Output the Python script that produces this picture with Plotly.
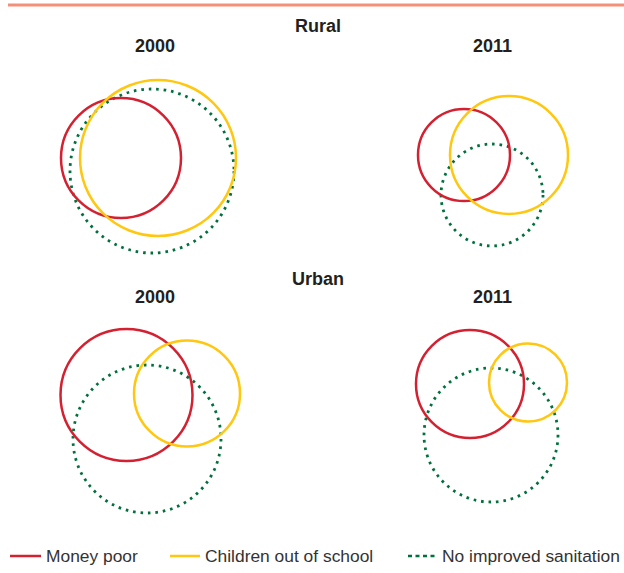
import plotly.graph_objects as go

# ---------------- data ----------------
panels = ["Rural 2000", "Rural 2011", "Urban 2000", "Urban 2011"]
series = ["Money poor", "Children out of school", "No improved sanitation"]

# circle centres (relative to panel centre, y up) and radii, per panel
money_poor_x = [-29, -28, -23.5, -22]
money_poor_y = [7, 10, 25, 36]
money_poor_r = [60, 46, 66, 54]

out_of_school_x = [8, 17, 37, 36]
out_of_school_y = [7, 10, 26.5, 37.5]
out_of_school_r = [78, 59, 53, 39]

no_sanitation_x = [2, 0, -3, -1]
no_sanitation_y = [-6, -30, -19, -15]
no_sanitation_r = [82, 51, 74, 67]

group_titles = ["Rural", "Urban"]
year_titles = ["2000", "2011", "2000", "2011"]

# ---------------- styles ----------------
W, H = 624, 573
RED = "#D42131"
YELLOW = "#FFC70F"
GREEN = "#00703C"
FONT = "Liberation Sans, Arial, sans-serif"

styles = {
    "Money poor": dict(color=RED, width=2.5, dash="solid"),
    "Children out of school": dict(color=YELLOW, width=2.5, dash="solid"),
    "No improved sanitation": dict(color=GREEN, width=2.8, dash="2.6px,4.9px"),
}

# panel layout in pixels: (centre_x, centre_y)
panel_centres = [(150, 165), (492, 165), (150, 420), (492, 420)]
HALF_W, HALF_H = 120, 105

fig = go.Figure()
shapes = []
annotations = []

def px_to_paper_x(p):
    return p / W

def px_to_paper_y(p):
    return 1 - p / H

series_data = {
    "Money poor": (money_poor_x, money_poor_y, money_poor_r),
    "Children out of school": (out_of_school_x, out_of_school_y, out_of_school_r),
    "No improved sanitation": (no_sanitation_x, no_sanitation_y, no_sanitation_r),
}
draw_order = ["No improved sanitation", "Money poor", "Children out of school"]

for i, (pcx, pcy) in enumerate(panel_centres):
    n = "" if i == 0 else str(i + 1)
    xa = "xaxis" + n
    ya = "yaxis" + n
    fig.add_trace(go.Scatter(x=[0], y=[0], mode="markers", marker=dict(opacity=0),
                             xaxis="x" + n, yaxis="y" + n, showlegend=False,
                             hoverinfo="skip"))
    fig.layout[xa] = dict(domain=[px_to_paper_x(pcx - HALF_W), px_to_paper_x(pcx + HALF_W)],
                          range=[-HALF_W, HALF_W], visible=False, fixedrange=True,
                          anchor="y" + n)
    fig.layout[ya] = dict(domain=[px_to_paper_y(pcy + HALF_H), px_to_paper_y(pcy - HALF_H)],
                          range=[-HALF_H, HALF_H], visible=False, fixedrange=True,
                          anchor="x" + n)
    for s in draw_order:
        xs, ys, rs = series_data[s]
        st = styles[s]
        shapes.append(dict(type="circle", xref="x" + n, yref="y" + n,
                           x0=xs[i] - rs[i], x1=xs[i] + rs[i],
                           y0=ys[i] - rs[i], y1=ys[i] + rs[i],
                           line=dict(color=st["color"], width=st["width"], dash=st["dash"]),
                           fillcolor="rgba(0,0,0,0)"))

# top rule
shapes.append(dict(type="line", xref="paper", yref="paper",
                   x0=px_to_paper_x(8), x1=1, y0=px_to_paper_y(5), y1=px_to_paper_y(5),
                   line=dict(color="#F4907A", width=3)))

# titles
title_font = dict(family=FONT, size=18, color="#231F20")
for g, gy in zip(group_titles, [26, 279]):
    annotations.append(dict(text="<b>%s</b>" % g, x=px_to_paper_x(318), y=px_to_paper_y(gy),
                            xref="paper", yref="paper", showarrow=False,
                            xanchor="center", yanchor="middle", font=title_font))
year_pos = [(155, 46), (492, 46), (155, 297), (492, 297)]
for t, (tx, ty) in zip(year_titles, year_pos):
    annotations.append(dict(text="<b>%s</b>" % t, x=px_to_paper_x(tx), y=px_to_paper_y(ty),
                            xref="paper", yref="paper", showarrow=False,
                            xanchor="center", yanchor="middle", font=title_font))

# legend
legend_font = dict(family=FONT, size=17.4, color="#333333")
legend_x = [(10, 41, 44), (170, 200, 203), (408, 437, 440)]
LY = 556
for s, (lx0, lx1, tx) in zip(series, legend_x):
    st = styles[s]
    dash = st["dash"] if st["dash"] == "solid" else "4px,3.5px"
    shapes.append(dict(type="line", xref="paper", yref="paper",
                       x0=px_to_paper_x(lx0), x1=px_to_paper_x(lx1),
                       y0=px_to_paper_y(LY), y1=px_to_paper_y(LY),
                       line=dict(color=st["color"], width=2.5, dash=dash)))
    annotations.append(dict(text=s, x=px_to_paper_x(tx), y=px_to_paper_y(LY),
                            xref="paper", yref="paper", showarrow=False,
                            xanchor="left", yanchor="middle", font=legend_font))

fig.update_layout(width=W, height=H, margin=dict(l=0, r=0, t=0, b=0),
                  paper_bgcolor="white", plot_bgcolor="white",
                  shapes=shapes, annotations=annotations, showlegend=False)

fig.write_html("out.html", config={"displayModeBar": False},
               post_script="document.body.style.margin='0';document.body.style.overflow='hidden';")
